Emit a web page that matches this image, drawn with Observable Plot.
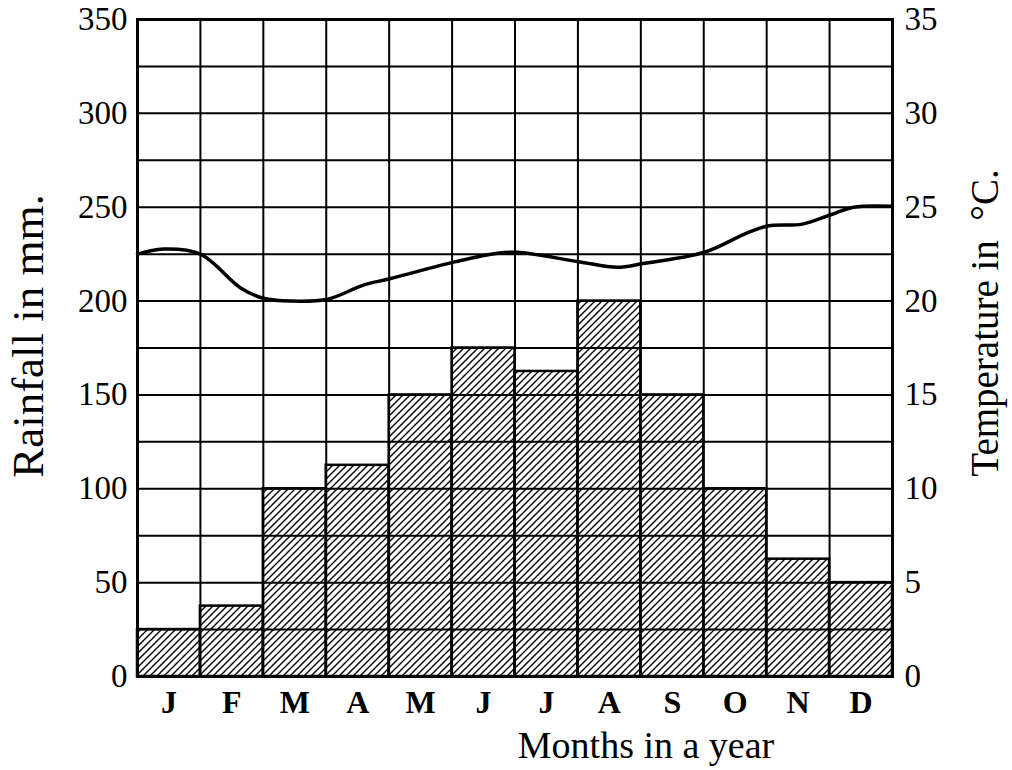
<!DOCTYPE html>
<html>
<head>
<meta charset="utf-8">
<script src="https://cdn.jsdelivr.net/npm/d3@7"></script>
<script src="https://cdn.jsdelivr.net/npm/@observablehq/plot@0.6"></script>
<style>
  html, body { margin: 0; padding: 0; background: #fff; }
  svg { font-family: "Liberation Serif", "DejaVu Serif", serif; }
</style>
</head>
<body>
<div id="chart"></div>
<script>
// Month labels
const months = ["J", "F", "M", "A", "M", "J", "J", "A", "S", "O", "N", "D"];
// Rainfall in mm per month
const rainfall = [25, 37.5, 100, 112.5, 150, 175, 162.5, 200, 150, 100, 62.5, 50];
// Temperature curve: position in months (0 = start of Jan, 12 = end of Dec) and °C
const tempMonth = [0, 0.41, 1.0, 1.64, 2.0, 2.43, 3.02, 3.59, 4.02, 5.06, 5.72, 6.04, 7.01, 7.63, 8.03, 9.01, 9.7, 10.02, 10.57, 11.02, 11.38, 12.0];
const tempC     = [22.5, 22.77, 22.5, 20.7, 20.15, 20.0, 20.1, 20.85, 21.2, 22.1, 22.55, 22.6, 22.1, 21.8, 22.0, 22.6, 23.65, 24.0, 24.1, 24.6, 25.0, 25.05];
// Tick values
const rainTicks = [0, 50, 100, 150, 200, 250, 300, 350];
const gridRain = d3.range(0, 351, 25);
const gridMonths = d3.range(0, 13);

const bars = rainfall.map((r, i) => ({month: months[i], i, rain: r}));
const temps = tempMonth.map((m, i) => ({m, t: tempC[i]}));

const plot = Plot.plot({
  width: 1012,
  height: 770,
  marginLeft: 137,
  marginRight: 120,
  marginTop: 19,
  marginBottom: 94,
  x: {type: "linear", domain: [0, 12]},
  y: {domain: [0, 350]},
  marks: [
    Plot.rectY(bars, {x1: "i", x2: d => d.i + 1, y: "rain", fill: "url(#hatch)", stroke: "black", strokeWidth: 2.5}),
    Plot.ruleY(gridRain, {stroke: "black", strokeWidth: 2}),
    Plot.ruleX(gridMonths, {stroke: "black", strokeWidth: 2}),
    Plot.line(temps, {x: "m", y: d => d.t * 10, curve: "catmull-rom", stroke: "black", strokeWidth: 3.5}),
    Plot.frame({stroke: "black", strokeWidth: 3}),
    Plot.axisY({ticks: rainTicks, tickSize: 0, tickPadding: 10, fontSize: 33, label: null, anchor: "left"}),
    Plot.axisY({ticks: rainTicks, tickSize: 0, tickPadding: 12, fontSize: 33, label: null, anchor: "right", tickFormat: d => d / 10}),
    Plot.axisX({ticks: d3.range(12).map(i => i + 0.5), tickSize: 0, tickPadding: 14, fontSize: 32, fontWeight: "bold", label: null, tickFormat: d => months[Math.floor(d)]}),
    Plot.text(["Rainfall in mm."], {frameAnchor: "left", textAnchor: "middle", lineAnchor: "middle", dx: -109, dy: -12, rotate: -90, fontSize: 45}),
    Plot.text(["Temperature in  °C."], {frameAnchor: "right", textAnchor: "middle", lineAnchor: "middle", dx: 93, dy: -25, rotate: -90, fontSize: 39}),
    Plot.text(["Months in a year"], {frameAnchor: "bottom", textAnchor: "middle", lineAnchor: "middle", dx: 131, dy: 69, fontSize: 38})
  ]
});

// hatch pattern definition
const svg = d3.select(plot);
const defs = svg.insert("defs", ":first-child");
const pat = defs.append("pattern")
  .attr("id", "hatch")
  .attr("patternUnits", "userSpaceOnUse")
  .attr("width", 7)
  .attr("height", 7);
pat.append("rect").attr("width", 7).attr("height", 7).attr("fill", "white");
pat.append("path")
  .attr("d", "M0,7 L7,0 M-1.5,1.5 L1.5,-1.5 M5.5,8.5 L8.5,5.5")
  .attr("stroke", "black")
  .attr("stroke-width", 1.4);

document.getElementById("chart").appendChild(plot);
</script>
</body>
</html>
